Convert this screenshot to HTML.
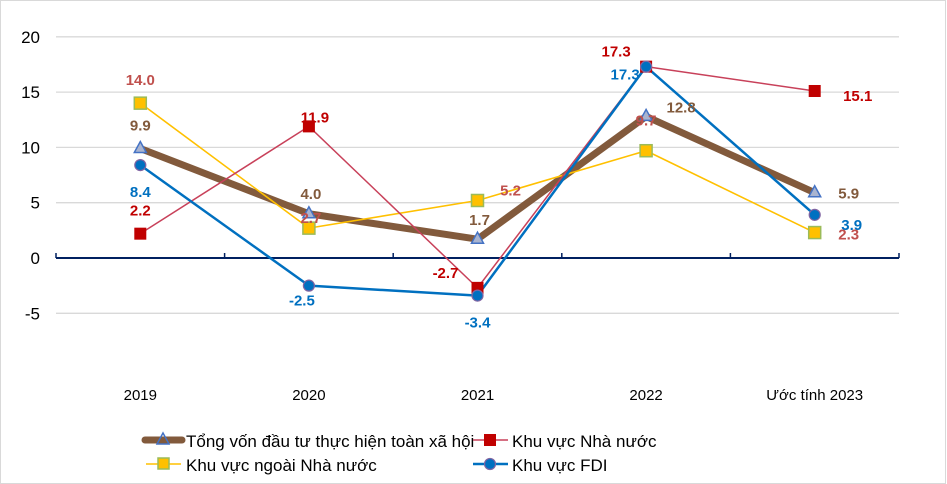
<!DOCTYPE html>
<html><head><meta charset="utf-8"><style>
body{margin:0;background:#fff}
svg{font-family:"Liberation Sans","DejaVu Sans",sans-serif;display:block}
</style></head><body>
<svg id="chart" width="947" height="484" viewBox="0 0 947 484">
<rect x="0.5" y="0.5" width="945" height="483" fill="#fff" stroke="#d9d9d9"/>
<g id="grid"></g><g id="axes"></g><g id="series"></g><g id="labels"></g>
<g id="legend">
 <g>
  <line x1="145" y1="440" x2="182" y2="440" stroke="#825a3c" stroke-width="7" stroke-linecap="round"/>
  <polygon points="163,433 169,444 157,444" fill="none" stroke="#4472c4" stroke-width="1.5"/>
  <text x="186" y="447" font-size="17" fill="#000">Tổng vốn đầu tư thực hiện toàn xã hội</text></g>
 <g>
  <line x1="473" y1="440" x2="508" y2="440" stroke="#c8415a" stroke-width="1.5"/>
  <rect x="484" y="434" width="12" height="12" fill="#c00000"/>
  <text x="512" y="447" font-size="17" fill="#000">Khu vực Nhà nước</text></g>
 <g>
  <line x1="146" y1="464" x2="181" y2="464" stroke="#ffc000" stroke-width="1.5"/>
  <rect x="158" y="458" width="11" height="11" fill="#ffc000" stroke="#9bbb59" stroke-width="1.5"/>
  <text x="186" y="471" font-size="17" fill="#000">Khu vực ngoài Nhà nước</text></g>
 <g>
  <line x1="473" y1="464" x2="508" y2="464" stroke="#0070c0" stroke-width="2.5"/>
  <circle cx="490" cy="464" r="5.5" fill="#0070c0" stroke="#8064a2" stroke-width="1.2"/>
  <text x="512" y="471" font-size="17" fill="#000">Khu vực FDI</text></g>
</g>
</svg>
<script>
const categories=["2019","2020","2021","2022","Ước tính 2023"];
const totalValues=[9.9,4.0,1.7,12.8,5.9];
const stateValues=[2.2,11.9,-2.7,17.3,15.1];
const nonStateValues=[14.0,2.7,5.2,9.7,2.3];
const fdiValues=[8.4,-2.5,-3.4,17.3,3.9];
const yTicks=[20,15,10,5,0,-5];

const NS="http://www.w3.org/2000/svg";
const L=56,R=899,y0=258,pxPerUnit=11.06;
const bandW=(R-L)/categories.length;
const xs=i=>L+bandW*(i+0.5);
const ys=v=>y0-v*pxPerUnit;
function mk(tag,attrs,parent){const e=document.createElementNS(NS,tag);for(const k in attrs)e.setAttribute(k,attrs[k]);parent.appendChild(e);return e;}
const grid=document.getElementById('grid'),axes=document.getElementById('axes'),ser=document.getElementById('series'),lab=document.getElementById('labels');

yTicks.forEach(t=>{
 if(t!==0){const g=mk('line',{x1:L,x2:R,y1:ys(t),y2:ys(t),stroke:'#d9d9d9','stroke-width':1.3},grid);
 
 }
 const tx=mk('text',{x:40,y:ys(t)+6,'font-size':17,'text-anchor':'end',fill:'#000'},axes);
 tx.textContent=t;
 
 
});
const ax=mk('line',{x1:L,x2:R,y1:y0,y2:y0,stroke:'#002060','stroke-width':2},axes);


for(let i=0;i<=categories.length;i++){
 const tk=mk('line',{x1:L+bandW*i,x2:L+bandW*i,y1:y0,y2:y0-5,stroke:'#002060','stroke-width':1.5},axes);
 
 
}
categories.forEach((c,i)=>{
 const t=mk('text',{x:xs(i),y:400,'font-size':15,'text-anchor':'middle',fill:'#000'},axes);
 t.textContent=c;
 
 
});

function line(vals,color,w,name){
 const p=mk('polyline',{points:vals.map((v,i)=>xs(i)+','+ys(v)).join(' '),fill:'none',stroke:color,'stroke-width':w,'stroke-linejoin':'round'},ser);
 
 
}
function label(txt,x,y,color,name){
 const t=mk('text',{x:x,y:y,'font-size':15,'font-weight':'bold','text-anchor':'middle',fill:color},lab);
 t.textContent=txt;
 
 
}
line(totalValues,'#825a3c',7,'line-total');
line(nonStateValues,'#ffc000',1.6,'line-non-state');
line(stateValues,'#c8415a',1.5,'line-state');
line(fdiValues,'#0070c0',2.5,'line-fdi');

totalValues.forEach((v,i)=>{const m=mk('polygon',{points:`${xs(i)},${ys(v)-7} ${xs(i)+6},${ys(v)+4} ${xs(i)-6},${ys(v)+4}`,fill:'#a9b4d0',stroke:'#4472c4','stroke-width':1.5},ser);
 
 });
nonStateValues.forEach((v,i)=>{const m=mk('rect',{x:xs(i)-6,y:ys(v)-6,width:12,height:12,fill:'#ffc000',stroke:'#9bbb59','stroke-width':1.5},ser);
 
 });
stateValues.forEach((v,i)=>{const m=mk('rect',{x:xs(i)-6,y:ys(v)-6,width:12,height:12,fill:'#c00000'},ser);
 
 });
fdiValues.forEach((v,i)=>{const m=mk('circle',{cx:xs(i),cy:ys(v),r:5.5,fill:'#0070c0',stroke:'#8064a2','stroke-width':1.2},ser);
 
 });

const totOff=[[0,-18],[2,-15],[2,-14],[35,-4],[34,6]];
const stOff=[[0,-18],[6,-4],[-32,-10],[-30,-10],[43,10]];
const nsOff=[[0,-18],[2,-5],[33,-5],[0,-25],[34,7]];
const fdOff=[[0,32],[-7,20],[0,32],[-21,13],[37,15]];
const fmt=v=>v.toFixed(1);
totalValues.forEach((v,i)=>label(fmt(v),xs(i)+totOff[i][0],ys(v)+totOff[i][1],'#825a3c','label-total'));
stateValues.forEach((v,i)=>label(fmt(v),xs(i)+stOff[i][0],ys(v)+stOff[i][1],'#c00000','label-state'));
nonStateValues.forEach((v,i)=>label(fmt(v),xs(i)+nsOff[i][0],ys(v)+nsOff[i][1],'#c0504d','label-non-state'));
fdiValues.forEach((v,i)=>label(fmt(v),xs(i)+fdOff[i][0],ys(v)+fdOff[i][1],'#0070c0','label-fdi'));
</script>
</body></html>
